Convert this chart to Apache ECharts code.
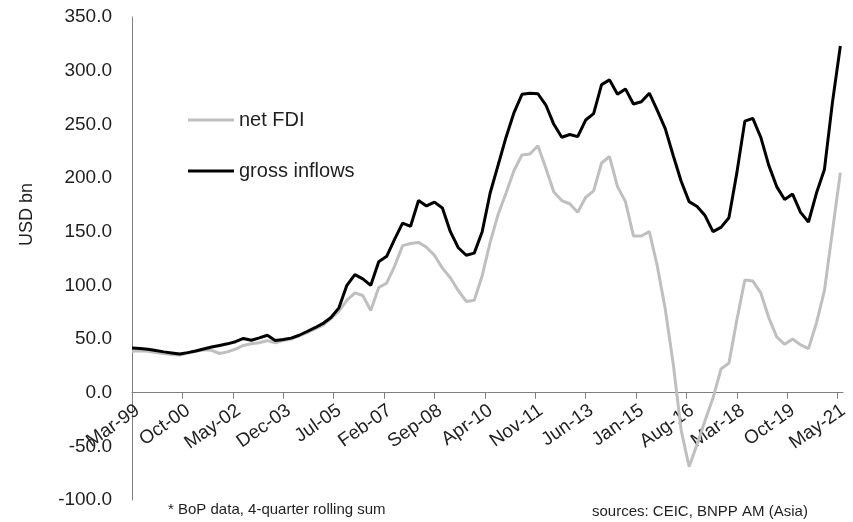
<!DOCTYPE html>
<html><head><meta charset="utf-8">
<script src="https://cdn.jsdelivr.net/npm/echarts@6/dist/echarts.min.js"></script>
<style>html,body{margin:0;padding:0;background:#fff}#c{width:853px;height:522px}</style>
</head><body><div id="c"></div>
<script>
// Quarterly values, Mar-99 .. Jun-21 (USD bn, 4-quarter rolling sum)
const netFDI = [
  38.5, 39, 38.5, 37.5, 36.5, 35.5, 35, 37, 38.5, 40,
  39.5, 36.5, 38, 40.5, 44, 45.5, 46.5, 48.5, 46.5, 48.5,
  50, 53, 56, 59.5, 63, 69, 76, 86, 93, 90.5,
  76.5, 98, 102, 118, 137, 139, 140, 135.5, 128, 116,
  107, 95, 85, 86, 109, 140, 166, 186, 207, 221.5,
  222.4, 230, 209, 187, 179, 176, 168, 182, 188, 214,
  220, 192, 178, 146, 146, 150, 118, 78, 27, -35,
  -69, -48, -26, -5, 22, 27.5, 68, 105, 104, 93,
  70, 52, 45, 50, 44.5, 41, 65, 95, 150, 205
];
const grossInflows = [
  41.7, 41.2, 40.5, 39.2, 38, 37, 36, 37.3, 38.8, 40.7,
  42.5, 44, 45.5, 47.5, 50.5, 48.8, 51, 53.5, 48.5, 49.5,
  50.8, 53.5, 57, 60.5, 64.5, 70, 79, 100, 110, 106,
  100, 122, 127, 143, 158, 155, 179, 174, 177.5, 172,
  150, 135, 128, 130, 150, 186, 212, 238, 261, 278,
  279, 278.5, 268, 250, 238, 240.5, 238.5, 254, 260, 287,
  291.4, 278, 283, 269, 271, 279, 263, 246, 221, 197,
  178, 173.5, 165, 150, 154, 163, 205, 253, 255.6, 238,
  212, 192, 180, 185, 168, 159, 186, 208, 270, 323
];
const tickLabels = ['Mar-99','Oct-00','May-02','Dec-03','Jul-05','Feb-07','Sep-08','Apr-10','Nov-11','Jun-13','Jan-15','Aug-16','Mar-18','Oct-19','May-21'];
const seriesNames = ['net FDI', 'gross inflows'];
const yMin = -100, yMax = 350, yStep = 50;

// monthly category axis (Excel date axis, months), Mar-99 .. Jul-21
const MON = ['Jan','Feb','Mar','Apr','May','Jun','Jul','Aug','Sep','Oct','Nov','Dec'];
const months = [];
for (let i = 0; i < 269; i++) {
  const k = 2 + i;
  months.push(MON[k % 12] + '-' + String((1999 + Math.floor(k / 12)) % 100).padStart(2, '0'));
}
function toMonthly(q) {
  return months.map((m, i) => (i % 3 === 0 && i / 3 < q.length) ? q[i / 3] : null);
}
const showTick = (idx, val) => tickLabels.indexOf(val) >= 0;
const FONT = '"Liberation Sans", Arial, sans-serif';
const TXT = '#1f1f1f';

const GRID = {left: 132, right: 10, top: 17, bottom: 22};
const gridH = 522 - GRID.top - GRID.bottom;
// lift the category axis (line + labels) up to the zero level of the value axis
const zeroOffset = -gridH * (0 - yMin) / (yMax - yMin);

const chart = echarts.init(document.getElementById('c'), null, {renderer: 'canvas'});
chart.setOption({
  animation: false,
  backgroundColor: '#fff',
  textStyle: {fontFamily: FONT},
  grid: Object.assign({containLabel: false, outerBoundsMode: 'none'}, GRID),
  xAxis: {
    type: 'category', data: months, boundaryGap: false, offset: zeroOffset,
    axisLine: {onZero: false, lineStyle: {color: '#7f7f7f', width: 1}},
    axisTick: {interval: showTick, length: 6, lineStyle: {color: '#7f7f7f'}},
    axisLabel: {interval: showTick, rotate: 35, fontSize: 19, color: TXT, margin: 20,
                padding: [0, -7, 0, 0], fontFamily: FONT, hideOverlap: false},
    splitLine: {show: false}
  },
  yAxis: {
    type: 'value', min: yMin, max: yMax, interval: yStep,
    axisLine: {show: true, lineStyle: {color: '#7f7f7f', width: 1}},
    axisTick: {show: false},
    splitLine: {show: false},
    axisLabel: {formatter: v => v.toFixed(1), fontSize: 19, color: TXT, margin: 20, fontFamily: FONT}
  },
  legend: {
    data: seriesNames, orient: 'vertical', left: 183, top: 105,
    icon: 'rect', itemWidth: 46, itemHeight: 3, itemGap: 31,
    textStyle: {fontSize: 20, color: TXT, fontFamily: FONT}
  },
  series: [
    {name: seriesNames[0], type: 'line', data: toMonthly(netFDI), connectNulls: true, showSymbol: false,
     lineStyle: {color: '#bfbfbf', width: 3}, itemStyle: {color: '#bfbfbf'}, z: 2},
    {name: seriesNames[1], type: 'line', data: toMonthly(grossInflows), connectNulls: true, showSymbol: false,
     lineStyle: {color: '#000000', width: 3}, itemStyle: {color: '#000000'}, z: 3}
  ],
  graphic: [
    {type: 'text', left: 18, top: 183, rotation: Math.PI / 2,
     style: {text: 'USD bn', fontSize: 18, fill: TXT, fontFamily: FONT}},
    {type: 'text', left: 168, top: 502,
     style: {text: '* BoP data, 4-quarter rolling sum', fontSize: 15, fill: TXT, fontFamily: FONT}},
    {type: 'text', left: 592, top: 504,
     style: {text: 'sources: CEIC, BNPP AM (Asia)', fontSize: 15, fill: TXT, fontFamily: FONT}}
  ]
});
</script></body></html>
